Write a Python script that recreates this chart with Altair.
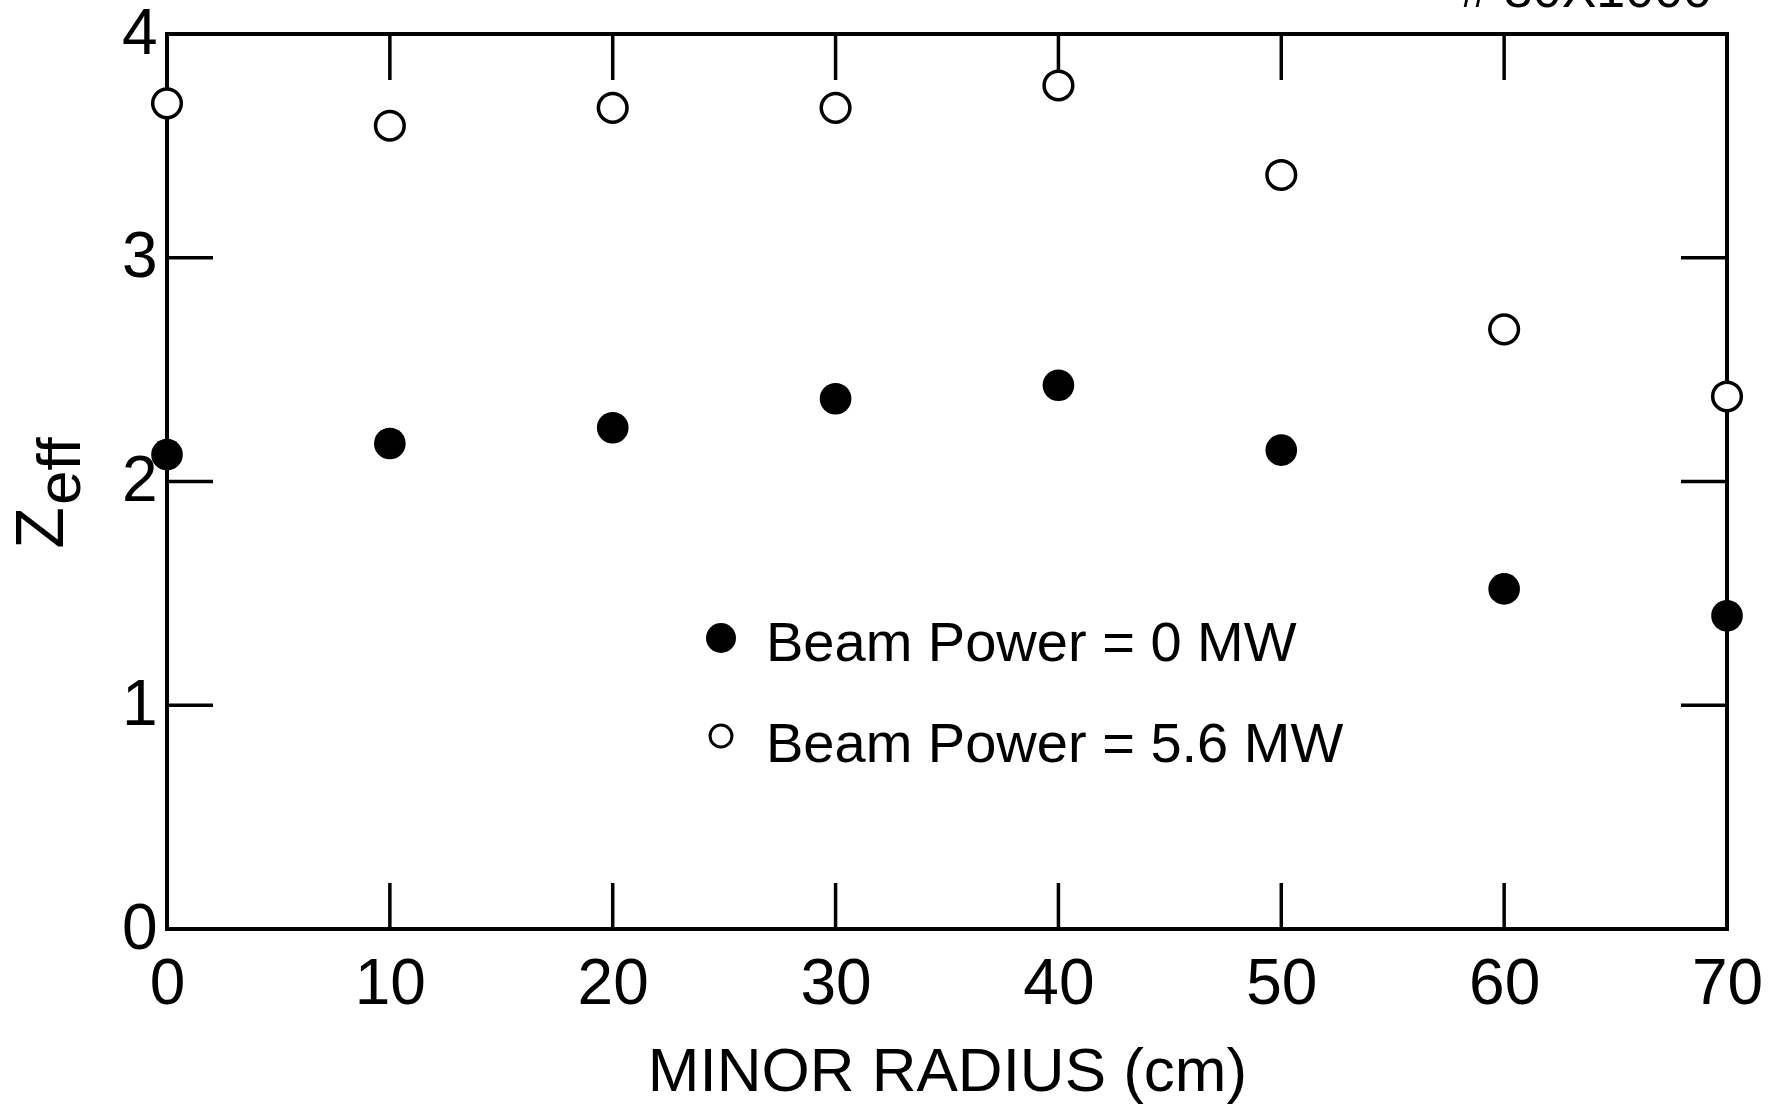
import altair as alt
import pandas as pd

# Zeff profile versus minor radius, with and without neutral beam heating
radius = [0, 10, 20, 30, 40, 50, 60, 70]
zeff_0mw = [2.12, 2.17, 2.24, 2.37, 2.43, 2.14, 1.52, 1.40]
zeff_56mw = [3.69, 3.59, 3.67, 3.67, 3.77, 3.37, 2.68, 2.38]

x_ticks = [0, 10, 20, 30, 40, 50, 60, 70]
y_ticks = [0, 1, 2, 3, 4]
inner_x_ticks = [10, 20, 30, 40, 50, 60]
inner_y_ticks = [1, 2, 3]

legend_labels = ["Beam Power = 0 MW", "Beam Power = 5.6 MW"]
x_title = "MINOR RADIUS (cm)"
y_title_main = "Z"
y_title_sub = "eff"
plate_label = "# 80X1000"

FONT = "Liberation Sans"
W, H = 1560, 895
TICK = 46

xs = alt.Scale(domain=[0, 70], nice=False, zero=False)
ys = alt.Scale(domain=[0, 4], nice=False, zero=False)

df = pd.DataFrame({"radius": radius, "z0": zeff_0mw, "z56": zeff_56mw})
xt = pd.DataFrame({"v": inner_x_ticks})
yt = pd.DataFrame({"v": inner_y_ticks})
one = pd.DataFrame({"k": [0]})

x_axis = alt.Axis(
    values=x_ticks, ticks=False, tickSize=0, domain=False, grid=False,
    labelFont=FONT, labelFontSize=64, labelColor="black", labelPadding=23,
    labelFlush=False, format="d",
    title=x_title, titleFont=FONT, titleFontSize=62, titleFontWeight="normal",
    titleColor="black", titleBaseline="alphabetic", titleY=161,
)
y_axis = alt.Axis(
    values=y_ticks, ticks=False, tickSize=0, domain=False, grid=False,
    labelFont=FONT, labelFontSize=64, labelColor="black", labelPadding=10,
    labelFlush=False, format="d", title=None,
)

X = lambda f: alt.X(f, scale=xs, axis=x_axis)
Y = lambda f: alt.Y(f, scale=ys, axis=y_axis)

rule = dict(color="black", strokeWidth=3.5)

# inward ticks on all four sides of the frame
top_ticks = alt.Chart(xt).mark_rule(**rule).encode(
    x=X("v:Q"), y=alt.value(0), y2=alt.value(TICK))
bottom_ticks = alt.Chart(xt).mark_rule(**rule).encode(
    x=X("v:Q"), y=alt.value(H), y2=alt.value(H - TICK))
left_ticks = alt.Chart(yt).mark_rule(**rule).encode(
    y=Y("v:Q"), x=alt.value(0), x2=alt.value(TICK))
right_ticks = alt.Chart(yt).mark_rule(**rule).encode(
    y=Y("v:Q"), x=alt.value(W), x2=alt.value(W - TICK))

open_pts = alt.Chart(df).mark_point(
    shape="circle", filled=False, fill="white", fillOpacity=1,
    stroke="black", strokeWidth=3.5, size=820, opacity=1,
).encode(x=X("radius:Q"), y=Y("z56:Q"))
filled_pts = alt.Chart(df).mark_point(
    shape="circle", filled=True, color="black", size=1000, opacity=1,
).encode(x=X("radius:Q"), y=Y("z0:Q"))

# legend inside the plot
leg_filled = alt.Chart(one).mark_point(
    shape="circle", filled=True, color="black", size=900, opacity=1,
).encode(x=alt.value(554), y=alt.value(604))
leg_open = alt.Chart(one).mark_point(
    shape="circle", filled=False, fill="white", fillOpacity=1,
    stroke="black", strokeWidth=3, size=480, opacity=1,
).encode(x=alt.value(554), y=alt.value(702))
leg_text1 = alt.Chart(one).mark_text(
    text=legend_labels[0], font=FONT, fontSize=56, color="black",
    align="left", baseline="alphabetic",
).encode(x=alt.value(599), y=alt.value(627))
leg_text2 = alt.Chart(one).mark_text(
    text=legend_labels[1], font=FONT, fontSize=56, color="black",
    align="left", baseline="alphabetic",
).encode(x=alt.value(599), y=alt.value(728))

# rotated y title with subscript
ytitle_main = alt.Chart(one).mark_text(
    text=y_title_main, font=FONT, fontSize=68, color="black",
    angle=270, align="center", baseline="alphabetic",
).encode(x=alt.value(-104), y=alt.value(494))
ytitle_sub = alt.Chart(one).mark_text(
    text=y_title_sub, font=FONT, fontSize=62, color="black",
    angle=270, align="left", baseline="alphabetic",
).encode(x=alt.value(-87), y=alt.value(471))

plate = alt.Chart(one).mark_text(
    text=plate_label, font=FONT, fontSize=52, color="black",
    align="right", baseline="alphabetic",
).encode(x=alt.value(1545), y=alt.value(-27))

chart = alt.layer(
    top_ticks, bottom_ticks, left_ticks, right_ticks,
    open_pts, filled_pts,
    leg_filled, leg_open, leg_text1, leg_text2,
    ytitle_main, ytitle_sub, plate,
).properties(
    width=W, height=H,
    padding={"left": 167, "top": 34, "right": 44, "bottom": 176},
    autosize=alt.AutoSizeParams(type="none"),
    background="white",
).configure_view(
    stroke="black", strokeWidth=4,
)

chart.save("out.html", embed_options={"renderer": "svg", "actions": False})
